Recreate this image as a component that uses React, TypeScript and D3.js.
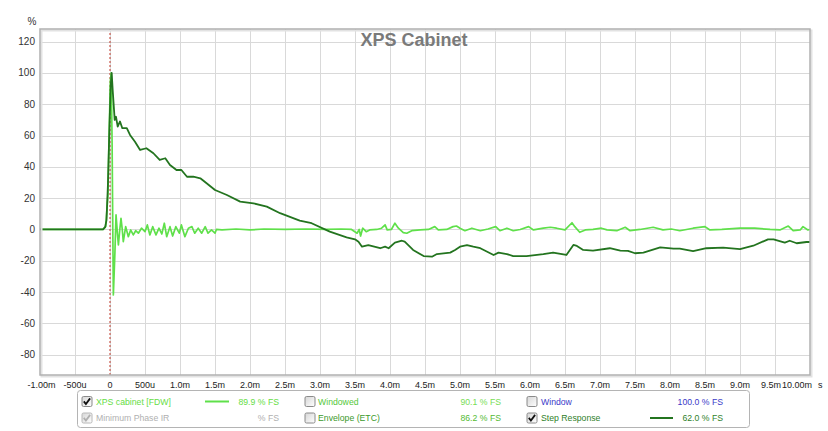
import React from "react";
import * as d3 from "d3";

// step response (dark green), [ms, %]
const stepPoints: [number, number][] = [
  [-1, 0], [-0.1, 0], [-0.07, 1.5], [-0.05, 6], [-0.03, 28], [-0.01, 62], [0.01, 92], [0.024, 100],
  [0.04, 88], [0.067, 70], [0.086, 72], [0.11, 65.7], [0.143, 69], [0.176, 64.7], [0.24, 64.7],
  [0.286, 60.4], [0.357, 56], [0.43, 50.8], [0.52, 51.9], [0.62, 48.7], [0.71, 44.4], [0.79, 45.5],
  [0.857, 41.2], [0.95, 38], [1.02, 38], [1.1, 33.7], [1.19, 33.7], [1.29, 32.7], [1.38, 29.5],
  [1.5, 25.2], [1.67, 22], [1.86, 17.8], [2.05, 16.7], [2.24, 14.6], [2.43, 10.4], [2.71, 5.6],
  [2.88, 4], [3.14, -1.4], [3.38, -5], [3.5, -6.3], [3.55, -7.8], [3.6, -11], [3.69, -10],
  [3.86, -12], [3.93, -11], [3.98, -12], [4.07, -8.4], [4.17, -7.2], [4.21, -7.8], [4.33, -13.1],
  [4.48, -17], [4.6, -17.4], [4.67, -15.7], [4.86, -14.8], [4.93, -13.1], [5.0, -11], [5.1, -10],
  [5.19, -11], [5.29, -12], [5.48, -16.3], [5.55, -14.8], [5.67, -15.7], [5.76, -17], [5.95, -17],
  [6.19, -15.7], [6.33, -14.8], [6.52, -16.3], [6.62, -9.9], [6.67, -10.5], [6.76, -13.1],
  [6.9, -13.5], [7.14, -12], [7.29, -13.5], [7.4, -13.7], [7.5, -15.2], [7.62, -14.8],
  [7.86, -11.4], [8.05, -12.3], [8.14, -12.3], [8.33, -13.9], [8.52, -12], [8.76, -11.6],
  [9.0, -12.5], [9.19, -10.4], [9.4, -6.3], [9.48, -6.3], [9.64, -8.4], [9.71, -7.2],
  [9.81, -8.8], [9.95, -8], [10, -8],
];

// impulse response (light green), [ms, %]
const irPoints: [number, number][] = [
  [-1, 0], [-0.1, 0], [-0.06, 2], [-0.03, 22], [-0.01, 65], [0.005, 95], [0.018, 100], [0.03, 55],
  [0.04, 0], [0.048, -41.8], [0.07, -15], [0.086, 9.3], [0.105, -2], [0.12, -9.9], [0.14, 0],
  [0.157, 7.1], [0.175, 0], [0.19, -7.8], [0.224, 1.8], [0.262, -4.6], [0.295, -0.3], [0.333, -3.5],
  [0.367, -0.8], [0.405, -2.4], [0.45, 0.8], [0.5, -1.4], [0.533, 2.9], [0.57, -3.5], [0.61, 1.8],
  [0.657, -3.5], [0.7, 0.8], [0.74, -2.9], [0.776, 4], [0.81, -4.6], [0.857, 1.8], [0.895, -4.2],
  [0.94, 1.8], [0.99, -2.4], [1.02, 2.9], [1.07, -4.6], [1.12, 0.8], [1.17, 1.8], [1.21, -2.4],
  [1.26, 0.8], [1.31, -2.4], [1.36, 1.8], [1.4, -2.4], [1.45, -0.3], [1.5, -2.4], [1.52, 0],
  [1.6, -0.3], [1.8, 0.3], [2.0, -0.3], [2.2, 0.3], [2.5, 0], [2.8, 0.3], [3.1, 0], [3.3, 0.3],
  [3.45, 0], [3.53, -2.4], [3.56, 0], [3.58, -4.2], [3.61, 0.8], [3.66, -1.4], [3.71, -0.3],
  [3.81, 0], [3.88, 0.8], [3.93, 2.9], [3.96, -0.3], [4.02, 0], [4.07, 4], [4.12, 0.8], [4.19, -2],
  [4.24, -2.4], [4.31, -0.8], [4.43, -0.3], [4.55, 0], [4.64, 1.8], [4.69, -0.3], [4.81, 0],
  [4.9, 1.8], [4.95, 2.2], [5.0, 0.8], [5.07, -0.8], [5.17, 0.8], [5.29, -0.8], [5.4, 0.3],
  [5.51, 1.8], [5.57, -0.8], [5.67, 0.8], [5.76, -0.8], [5.86, 0], [5.98, 1.8], [6.05, -0.3],
  [6.19, 0.8], [6.29, 1.4], [6.38, 0.8], [6.5, -0.3], [6.6, 4.3], [6.64, 1.8], [6.71, -1.8],
  [6.79, -0.3], [6.9, 0], [7.02, 0.8], [7.1, -0.3], [7.24, -0.8], [7.36, 1.4], [7.43, -0.8],
  [7.57, 0], [7.76, 1.4], [7.9, -0.3], [8.02, 0.3], [8.14, -0.8], [8.33, 0.8], [8.5, 1.8],
  [8.57, -0.3], [8.74, 0], [9.0, 0.8], [9.21, 0.8], [9.43, 0], [9.57, -0.3], [9.69, 2.2],
  [9.76, -0.8], [9.86, -0.3], [9.9, 1.8], [9.97, -0.3], [10, 0],
];

const yTicks = [-80, -60, -40, -20, 0, 20, 40, 60, 80, 100, 120];
const xTicks = [-1, -0.5, 0, 0.5, 1, 1.5, 2, 2.5, 3, 3.5, 4, 4.5, 5, 5.5, 6, 6.5, 7, 7.5, 8, 8.5, 9, 9.5, 10];
const xTickLabels = [
  "-1.00m", "-500u", "0", "500u", "1.0m", "1.5m", "2.0m", "2.5m", "3.0m", "3.5m", "4.0m", "4.5m",
  "5.0m", "5.5m", "6.0m", "6.5m", "7.0m", "7.5m", "8.0m", "8.5m", "9.0m", "9.5m", "10.00m",
];

const W = 828;
const H = 431;
const plot = { left: 40, top: 29, right: 810, bottom: 375 };
const font = "'Liberation Sans', Arial, sans-serif";

const IR_COLOR = "#5fe04a";
const STEP_COLOR = "#23741f";

function Checkbox({ x, y, checked, disabled }: { x: number; y: number; checked: boolean; disabled?: boolean }) {
  return (
    <g transform={`translate(${x},${y})`}>
      <rect x={0.5} y={0.5} width={10} height={10} rx={1.5} fill="url(#cbGrad)" stroke={disabled ? "#b8b8b8" : "#8a8a8a"} />
      {checked && (
        <path d="M2.3,5.4 L4.4,8 L8.6,2.4" fill="none" stroke={disabled ? "#b0b0b0" : "#111"} strokeWidth={1.8} />
      )}
    </g>
  );
}

export default function App() {
  const x = d3.scaleLinear().domain([-1, 10]).range([plot.left, plot.right]);
  const y = d3.scaleLinear().domain([-93, 128.1]).range([plot.bottom, plot.top]);
  const line = d3
    .line<[number, number]>()
    .x((d) => x(d[0]))
    .y((d) => y(d[1]));

  const r1 = 404.5;
  const r2 = 421;

  // small label nudges at the ends, where the labels crowd
  const xLabelShift = (i: number) => (i === 0 ? 1.5 : i === xTicks.length - 2 ? -4 : 0);

  return (
    <svg
      width={W}
      height={H}
      style={{ position: "absolute", left: 0, top: 0, display: "block", background: "#fff" }}
      fontFamily={font}
    >
      <defs>
        <linearGradient id="cbGrad" x1="0" y1="0" x2="1" y2="1">
          <stop offset="0" stopColor="#d6d6d6" />
          <stop offset="1" stopColor="#ffffff" />
        </linearGradient>
        <clipPath id="plotClip">
          <rect x={plot.left} y={plot.top} width={plot.right - plot.left} height={plot.bottom - plot.top} />
        </clipPath>
      </defs>

      {/* grid */}
      <g stroke="#d9d9d9" strokeWidth={1}>
        {yTicks.map((t) => (
          <line key={"gy" + t} x1={plot.left} x2={plot.right} y1={Math.round(y(t)) + 0.5} y2={Math.round(y(t)) + 0.5} />
        ))}
        {xTicks.slice(1, -1).map((t) => (
          <line key={"gx" + t} x1={Math.round(x(t)) + 0.5} x2={Math.round(x(t)) + 0.5} y1={plot.top} y2={plot.bottom} />
        ))}
      </g>

      {/* title */}
      <text x={414} y={46} textAnchor="middle" fontSize={18} fontWeight="bold" fill="#7a7a7a">
        XPS Cabinet
      </text>

      {/* time zero marker */}
      <line x1={x(0)} x2={x(0)} y1={plot.top} y2={plot.bottom} stroke="#c0392b" strokeWidth={1} strokeDasharray="2,2" />

      {/* curves */}
      <g clipPath="url(#plotClip)" fill="none" strokeLinejoin="round">
        <path d={line(irPoints) ?? ""} stroke={IR_COLOR} strokeWidth={1.7} />
        <path d={line(stepPoints) ?? ""} stroke={STEP_COLOR} strokeWidth={1.8} />
      </g>

      {/* frame with shadow */}
      <rect x={plot.left + 1.5} y={plot.top + 1.5} width={plot.right - plot.left} height={plot.bottom - plot.top} fill="none" stroke="#e2e2e2" strokeWidth={2} />
      <rect x={plot.left} y={plot.top} width={plot.right - plot.left} height={plot.bottom - plot.top} fill="none" stroke="#b0b0b0" strokeWidth={1.5} />

      {/* y axis labels */}
      <g fontSize={10} fill="#333" textAnchor="end">
        {yTicks.map((t) => (
          <text key={"ty" + t} x={35} y={y(t) + 3.5}>
            {t}
          </text>
        ))}
      </g>
      <text x={32} y={25} fontSize={10} fill="#333" textAnchor="middle">%</text>

      {/* x axis labels */}
      <g fontSize={9} fill="#222">
        {xTicks.map((t, i) =>
          i === xTicks.length - 1 ? (
            <text key={"tx" + t} x={812} y={388} textAnchor="end">
              {xTickLabels[i]}
            </text>
          ) : (
            <text key={"tx" + t} x={x(t) + xLabelShift(i)} y={388} textAnchor="middle">
              {xTickLabels[i]}
            </text>
          )
        )}
        <text x={818} y={388}>s</text>
      </g>

      {/* legend */}
      <rect x={77.5} y={390.5} width={672} height={37} rx={3} fill="#fff" stroke="#b4b4b4" />
      <g fontSize={8.7}>
        <Checkbox x={81.5} y={396} checked />
        <text x={96} y={r1} fill="#66dd44">XPS cabinet [FDW]</text>
        <line x1={205} x2={229} y1={r1 - 3} y2={r1 - 3} stroke={IR_COLOR} strokeWidth={2} />
        <text x={279} y={r1} fill="#66dd44" textAnchor="end">89.9 % FS</text>

        <Checkbox x={81.5} y={412.5} checked disabled />
        <text x={96} y={r2} fill="#b0b0b0">Minimum Phase IR</text>
        <text x={279} y={r2} fill="#b0b0b0" textAnchor="end">% FS</text>

        <Checkbox x={304.5} y={396} checked={false} />
        <text x={318} y={r1} fill="#55c83a">Windowed</text>
        <text x={501} y={r1} fill="#77dd55" textAnchor="end">90.1 % FS</text>

        <Checkbox x={304.5} y={412.5} checked={false} />
        <text x={318} y={r2} fill="#3c9a2c">Envelope (ETC)</text>
        <text x={501} y={r2} fill="#55bb33" textAnchor="end">86.2 % FS</text>

        <Checkbox x={526.5} y={396} checked={false} />
        <text x={541} y={r1} fill="#3a3ac8">Window</text>
        <text x={723} y={r1} fill="#3a3ac8" textAnchor="end">100.0 % FS</text>

        <Checkbox x={526.5} y={412.5} checked />
        <text x={541} y={r2} fill="#2f7f2a">Step Response</text>
        <line x1={650} x2={673} y1={r2 - 3} y2={r2 - 3} stroke={STEP_COLOR} strokeWidth={2} />
        <text x={723} y={r2} fill="#2f7f2a" textAnchor="end">62.0 % FS</text>
      </g>
    </svg>
  );
}
